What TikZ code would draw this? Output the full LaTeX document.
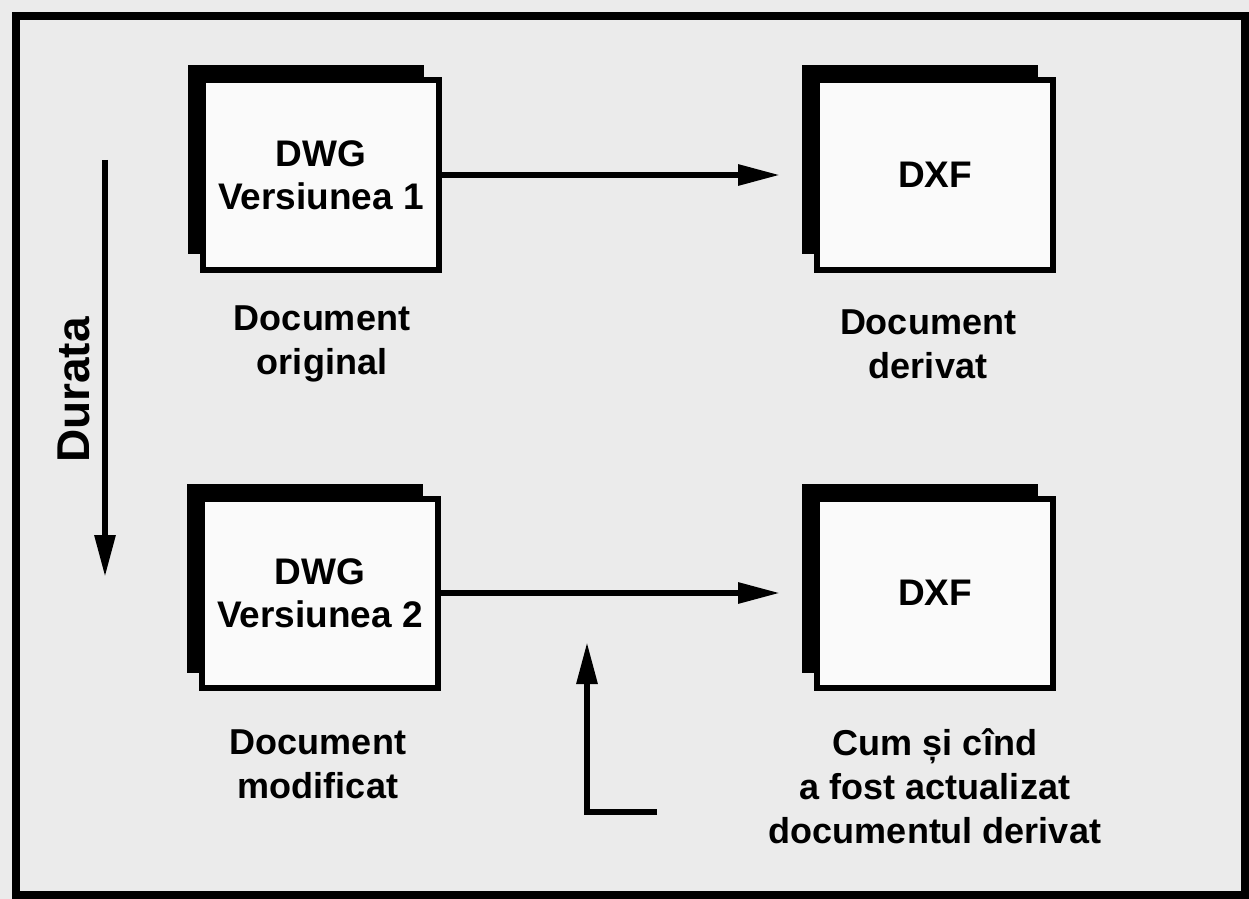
\documentclass[tikz,border=0pt]{standalone}
\usepackage{fontspec}
\setmainfont{Liberation Sans}
\usetikzlibrary{arrows.meta, shadows}

\begin{document}
\begin{tikzpicture}[x=0.5pt, y=-0.5pt,
	docbox/.style={draw, line width=3pt, fill=black!2, inner sep=0pt,
		minimum width=118pt, minimum height=94.5pt, align=center,
		font=\fontsize{18.5}{21.5}\selectfont\bfseries,
		general shadow={fill=black, shadow xshift=-7.5pt, shadow yshift=7.5pt}},
	caption/.style={align=center, font=\fontsize{18}{22}\selectfont\bfseries},
	flow/.style={line width=3pt, -{Triangle[length=21pt, width=10pt]}}]
	
	\useasboundingbox (0, 0) rectangle (1249, 899);
	\fill[black!8] (0, 0) rectangle (1249, 899);
	\draw[line width=4pt] (16, 16) rectangle (1245, 895);
	
	\begin{scope}
		\node[docbox] (dwga) at (321, 175) {DWG\\Versiunea 1};
		\node[docbox] (dxfa) at (935, 175) {DXF};
		
		\node[caption] (origlbl) at (322, 344) {Document\\original};
		\node[caption] (derivlbl) at (928, 344) {Document\\derivat};
		
		\draw[flow, shorten >=17pt] (dwga) -- (dxfa);
	\end{scope}
	
	\begin{scope}
		\node[docbox] (dwgb) at (320, 593) {DWG\\Versiunea 2};
		\node[docbox] (dxfb) at (935, 593) {DXF};
		
		\node[caption] (modiflbl) at (318, 764) {Document\\modificat};
		\node[caption] (updlbl) at (935, 786) {Cum și cînd\\a fost actualizat\\documentul derivat};
		
		\draw[flow, shorten >=17pt] (dwgb) -- (dxfb);
		
		\coordinate (updtail) at (657, 812);
		\coordinate (updtip) at (587, 642);
		\draw[flow] (updtail) -| (updtip);
	\end{scope}
	
	\node[rotate=90, inner sep=0pt, font=\fontsize{23}{28}\selectfont\bfseries] (durlbl) at (74, 390) {Durata};
	\coordinate (durtop) at (105, 160);
	\coordinate (durbot) at (105, 577);
	\draw[flow] (durtop) -- (durbot);
\end{tikzpicture}
\end{document}
